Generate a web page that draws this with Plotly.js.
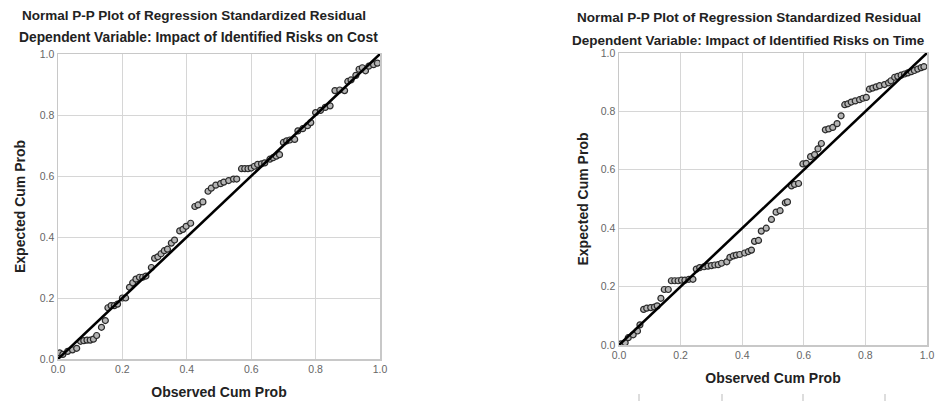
<!DOCTYPE html>
<html>
<head>
<meta charset="utf-8">
<script src="https://cdn.plot.ly/plotly-3.0.1.min.js"></script>
<style>
  html, body { margin: 0; padding: 0; background: #fff; }
  #chart { width: 943px; height: 401px; }
</style>
</head>
<body>
<div id="chart"></div>
<script>
// ---- Data ----
const costObserved = [0.005, 0.015, 0.03, 0.045, 0.058, 0.07, 0.08, 0.09, 0.10, 0.11,
  0.12, 0.135, 0.147, 0.155, 0.165, 0.175, 0.185, 0.20, 0.21, 0.222,
  0.232, 0.242, 0.253, 0.263, 0.273, 0.29, 0.30, 0.31, 0.32, 0.33,
  0.34, 0.352, 0.362, 0.378, 0.388, 0.398, 0.412, 0.425, 0.435, 0.45,
  0.466, 0.476, 0.49, 0.505, 0.515, 0.53, 0.545, 0.555, 0.57, 0.58,
  0.59, 0.60, 0.61, 0.62, 0.632, 0.642, 0.658, 0.668, 0.678, 0.688,
  0.70, 0.71, 0.72, 0.735, 0.745, 0.76, 0.775, 0.785, 0.80, 0.815,
  0.83, 0.845, 0.86, 0.875, 0.89, 0.90, 0.91, 0.925, 0.935, 0.945,
  0.955, 0.965, 0.98, 0.992];
const costExpected = [0.02, 0.015, 0.025, 0.03, 0.035, 0.058, 0.06, 0.062, 0.062, 0.065,
  0.077, 0.104, 0.126, 0.168, 0.175, 0.175, 0.18, 0.20, 0.20, 0.235,
  0.25, 0.262, 0.268, 0.268, 0.272, 0.30, 0.33, 0.335, 0.345, 0.355,
  0.36, 0.38, 0.39, 0.42, 0.425, 0.435, 0.445, 0.50, 0.505, 0.515,
  0.55, 0.56, 0.57, 0.575, 0.58, 0.585, 0.59, 0.59, 0.624, 0.624,
  0.624, 0.626, 0.632, 0.638, 0.64, 0.643, 0.655, 0.66, 0.665, 0.67,
  0.71, 0.715, 0.718, 0.72, 0.748, 0.755, 0.765, 0.775, 0.808, 0.815,
  0.825, 0.83, 0.88, 0.882, 0.88, 0.91, 0.915, 0.93, 0.95, 0.955,
  0.945, 0.96, 0.965, 0.97];

const timeObserved = [0.006, 0.02, 0.03, 0.046, 0.06, 0.068, 0.08, 0.09, 0.103, 0.115,
  0.124, 0.136, 0.147, 0.16, 0.17, 0.181, 0.192, 0.203, 0.214, 0.227,
  0.24, 0.251, 0.262, 0.276, 0.289, 0.3, 0.311, 0.322, 0.333, 0.35,
  0.36, 0.371, 0.381, 0.392, 0.408, 0.42, 0.43, 0.44, 0.453, 0.462,
  0.478, 0.495, 0.51, 0.523, 0.54, 0.547, 0.56, 0.57, 0.583, 0.597,
  0.608, 0.622, 0.635, 0.646, 0.657, 0.67, 0.681, 0.694, 0.708, 0.721,
  0.733, 0.743, 0.754, 0.767, 0.781, 0.792, 0.803, 0.813, 0.824, 0.835,
  0.846, 0.862, 0.875, 0.883, 0.895, 0.905, 0.916, 0.927, 0.938, 0.949,
  0.959, 0.97, 0.981, 0.99];
const timeExpected = [0.004, 0.008, 0.025, 0.035, 0.048, 0.069, 0.122, 0.126, 0.128, 0.13,
  0.134, 0.16, 0.19, 0.19, 0.22, 0.22, 0.22, 0.222, 0.222, 0.225,
  0.225, 0.26, 0.265, 0.268, 0.27, 0.272, 0.274, 0.275, 0.28, 0.285,
  0.3, 0.305, 0.308, 0.31, 0.315, 0.32, 0.325, 0.355, 0.358, 0.39,
  0.4, 0.43, 0.455, 0.46, 0.487, 0.49, 0.545, 0.55, 0.553, 0.62,
  0.622, 0.645, 0.652, 0.672, 0.69, 0.737, 0.74, 0.745, 0.758, 0.785,
  0.823, 0.826, 0.832, 0.836, 0.84, 0.845, 0.848, 0.876, 0.88, 0.884,
  0.888, 0.892, 0.898, 0.905, 0.917, 0.92, 0.924, 0.928, 0.932, 0.936,
  0.94, 0.945, 0.95, 0.953];

const refLine = [0, 1];
const tickValues = [0, 0.2, 0.4, 0.6, 0.8, 1.0];
const tickLabels = ['0.0', '0.2', '0.4', '0.6', '0.8', '1.0'];

const titleMain = 'Normal P-P Plot of Regression Standardized Residual';
const titleCost = 'Dependent Variable: Impact of Identified Risks on Cost';
const titleTime = 'Dependent Variable: Impact of Identified Risks on Time';
const xTitle = 'Observed Cum Prob';
const yTitle = 'Expected Cum Prob';

// ---- Layout helpers ----
const W = 943, H = 401;
const px = v => v / W;
const py = v => 1 - v / H;

const FONT = 'Liberation Sans, Arial, sans-serif';

const markerStyle = {
  symbol: 'circle', size: 6,
  color: 'rgba(180,180,180,1)',
  line: { color: '#2b2b2b', width: 1.2 }
};

function axis(domain, anchor, standoff) {
  return {
    domain: domain, anchor: anchor,
    range: [0, 1], fixedrange: true,
    tickmode: 'array', tickvals: tickValues, ticktext: tickLabels,
    tickfont: { family: FONT, size: 10.5, color: '#666' },
    ticks: '', ticklen: 0,
    showgrid: true, gridcolor: '#d6d6d6', gridwidth: 1,
    zeroline: false,
    showline: true, linecolor: '#c8c8c8', linewidth: 1.5, mirror: true,
    automargin: false,
    title: { standoff: standoff, font: { family: FONT, size: 14, color: '#222' } }
  };
}

const xa1 = axis([px(58), px(380)], 'y', 13);  xa1.title.text = '<b>' + xTitle + '</b>';
const ya1 = axis([1 - 359 / H, 1 - 54 / H], 'x', 11); ya1.title.text = '<b>' + yTitle + '</b>';
const xa2 = axis([px(619), px(927)], 'y2', 13); xa2.title.text = '<b>' + xTitle + '</b>';
const ya2 = axis([1 - 345 / H, 1 - 53 / H], 'x2', 9); ya2.title.text = '<b>' + yTitle + '</b>';

const traces = [
  { x: costObserved, y: costExpected, type: 'scatter', mode: 'markers',
    marker: markerStyle, xaxis: 'x', yaxis: 'y', hoverinfo: 'x+y' },
  { x: refLine, y: refLine, type: 'scatter', mode: 'lines',
    line: { color: '#000', width: 2.6 }, xaxis: 'x', yaxis: 'y', hoverinfo: 'skip' },
  { x: timeObserved, y: timeExpected, type: 'scatter', mode: 'markers',
    marker: markerStyle, xaxis: 'x2', yaxis: 'y2', hoverinfo: 'x+y' },
  { x: refLine, y: refLine, type: 'scatter', mode: 'lines',
    line: { color: '#000', width: 2.6 }, xaxis: 'x2', yaxis: 'y2', hoverinfo: 'skip' }
];

function titleAnn(text, cx, cy, size) {
  return { text: '<b>' + text + '</b>', xref: 'paper', yref: 'paper',
    x: px(cx), y: py(cy), xanchor: 'center', yanchor: 'middle', showarrow: false,
    font: { family: FONT, size: size, color: '#222' } };
}

const layout = {
  width: W, height: H,
  margin: { l: 0, r: 0, t: 0, b: 0 },
  paper_bgcolor: '#fff', plot_bgcolor: '#fff',
  showlegend: false,
  xaxis: xa1, yaxis: ya1, xaxis2: xa2, yaxis2: ya2,
  annotations: [
    titleAnn(titleMain, 194, 16, 13.5),
    titleAnn(titleCost, 198, 38, 13.8),
    titleAnn(titleMain, 749, 17, 13.5),
    titleAnn(titleTime, 748, 41, 13.5)
  ],
  shapes: [639, 722, 803, 885].map(x => ({
    type: 'line', xref: 'paper', yref: 'paper',
    x0: px(x), x1: px(x), y0: py(394), y1: py(401),
    line: { color: '#bbb', width: 1 }
  }))
};

Plotly.newPlot('chart', traces, layout, { displayModeBar: false, staticPlot: true });
</script>
</body>
</html>
